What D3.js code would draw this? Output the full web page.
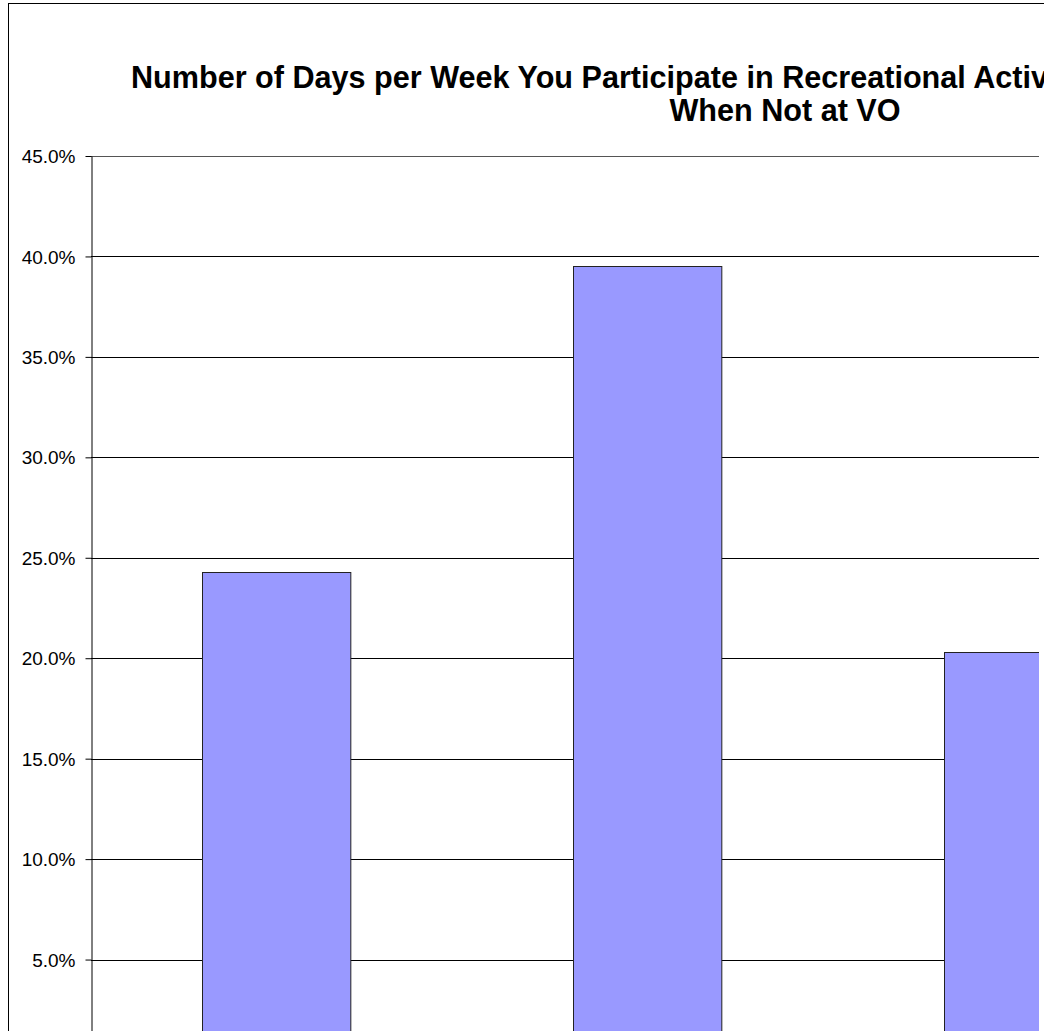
<!DOCTYPE html>
<html>
<head>
<meta charset="utf-8">
<script src="https://cdn.jsdelivr.net/npm/d3@7"></script>
<style>
  html, body { margin: 0; padding: 0; background: #fff; overflow: hidden; }
  svg { display: block; }
</style>
</head>
<body>
<div id="chart"></div>
<script>
// data (x labels sit below the visible area)
const categories = ['0', '1-2', '3-4'];
const values = [0.243, 0.395, 0.203];
const yTicks = [0, 0.05, 0.10, 0.15, 0.20, 0.25, 0.30, 0.35, 0.40, 0.45];
const titleLines = ['Number of Days per Week You Participate in Recreational Activities', 'When Not at VO'];

const width = 1044;
const height = 1031;

const plot = { left: 91, top: 156, bottom: 1060, right: 1039 };
const step = 370.8;

const svg = d3.select('#chart')
  .append('svg')
  .attr('width', width)
  .attr('height', height);

svg.append('rect')
  .attr('width', width)
  .attr('height', height)
  .attr('fill', '#fff');

// chart area border (continues past the right and bottom edge)
svg.append('rect')
  .attr('x', 8.5)
  .attr('y', 3.5)
  .attr('width', width + 20)
  .attr('height', height + 20)
  .attr('fill', 'none')
  .attr('stroke', '#000')
  .attr('stroke-width', 1);

// title
svg.append('text')
  .attr('x', 131)
  .attr('y', 88)
  .attr('font-family', 'Liberation Sans, Arial, sans-serif')
  .attr('font-weight', 'bold')
  .attr('font-size', 30.6)
  .attr('fill', '#000')
  .text(titleLines[0]);

svg.append('text')
  .attr('x', 785)
  .attr('y', 121)
  .attr('text-anchor', 'middle')
  .attr('font-family', 'Liberation Sans, Arial, sans-serif')
  .attr('font-weight', 'bold')
  .attr('font-size', 30.6)
  .attr('fill', '#000')
  .text(titleLines[1]);

const xScale = d3.scaleBand()
  .domain(categories)
  .range([plot.left, plot.left + step * categories.length])
  .paddingInner(0.6)
  .paddingOuter(0.3);

const yScale = d3.scaleLinear()
  .domain([0, 0.45])
  .range([plot.bottom, plot.top]);

svg.append('clipPath')
  .attr('id', 'plot-clip')
  .append('rect')
  .attr('x', 0)
  .attr('y', 0)
  .attr('width', plot.right)
  .attr('height', height);

const g = svg.append('g').attr('clip-path', 'url(#plot-clip)');

// gridlines
g.selectAll('line.grid')
  .data(yTicks)
  .enter()
  .append('line')
  .attr('class', 'grid')
  .attr('x1', plot.left)
  .attr('x2', plot.right)
  .attr('y1', d => Math.round(yScale(d)) + 0.5)
  .attr('y2', d => Math.round(yScale(d)) + 0.5)
  .attr('stroke', (d, i) => i === yTicks.length - 1 ? '#555' : '#000')
  .attr('stroke-width', 1);

// bars
g.selectAll('rect.bar')
  .data(values)
  .enter()
  .append('rect')
  .attr('class', 'bar')
  .attr('x', (d, i) => Math.round(xScale(categories[i])) + 0.5)
  .attr('y', d => Math.round(yScale(d)) + 0.5)
  .attr('width', xScale.bandwidth())
  .attr('height', d => yScale(0) - yScale(d))
  .attr('fill', '#9999FF')
  .attr('stroke', '#222')
  .attr('stroke-width', 1);

// x axis (labels fall below the visible area)
g.append('g')
  .attr('transform', `translate(0, ${Math.round(plot.bottom) + 0.5})`)
  .call(d3.axisBottom(xScale).tickSizeOuter(0))
  .call(a => a.selectAll('text')
    .attr('font-family', 'Liberation Sans, Arial, sans-serif')
    .attr('font-size', 19)
    .attr('fill', '#000'));

// y axis
const yAxis = svg.append('g')
  .attr('transform', `translate(${plot.left + 0.5}, 0)`)
  .call(d3.axisLeft(yScale)
    .tickValues(yTicks)
    .tickFormat(d3.format('.1%'))
    .tickSize(6)
    .tickSizeOuter(0)
    .tickPadding(10));

yAxis.select('.domain').attr('stroke', '#000');
yAxis.selectAll('line').attr('stroke', '#000');
yAxis.selectAll('text')
  .attr('font-family', 'Liberation Sans, Arial, sans-serif')
  .attr('font-size', 19)
  .attr('fill', '#000')
  .attr('dy', '0.35em');
</script>
</body>
</html>
